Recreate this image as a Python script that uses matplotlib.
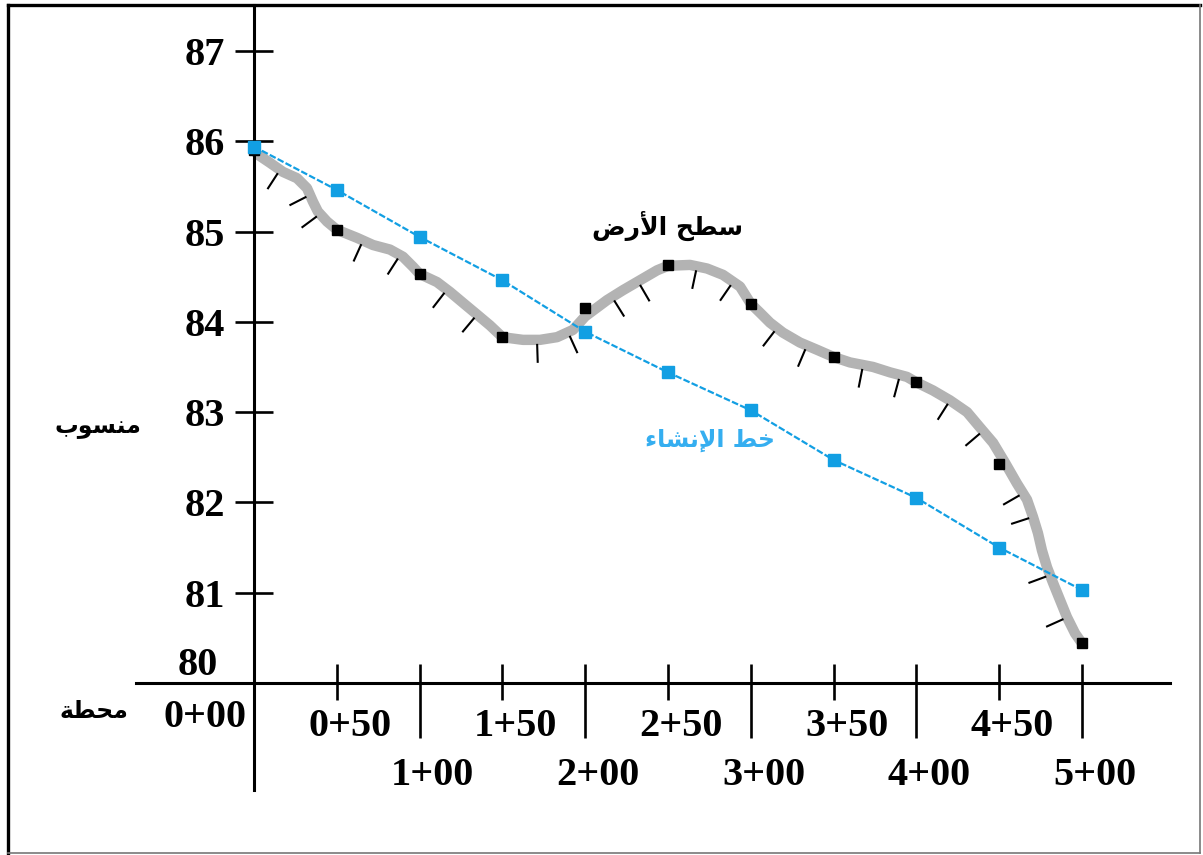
import numpy as np
import matplotlib
matplotlib.use("Agg")
import matplotlib.pyplot as plt
from matplotlib.collections import LineCollection
from matplotlib.lines import Line2D
import matplotlib.transforms as mtransforms

# ---------------- data ----------------
stations = [0, 50, 100, 150, 200, 250, 300, 350, 400, 450, 500]
station_labels = ["0+00", "0+50", "1+00", "1+50", "2+00", "2+50",
                  "3+00", "3+50", "4+00", "4+50", "5+00"]
design_elev = [85.94, 85.46, 84.94, 84.46, 83.89, 83.44, 83.02, 82.47, 82.05, 81.50, 81.03]
ground_elev = [85.90, 85.02, 84.53, 83.83, 84.15, 84.63, 84.20, 83.61, 83.33, 82.42, 80.44]

# ground surface profile
profile_sta = [0, 2.4, 9.7, 17.5, 26.0, 32.0, 35.6, 38.6, 44.1, 50, 62.2, 71.9, 82.1,
               90.0, 96.0, 100, 110.5, 118.4, 126.2, 134.7, 142.5, 150, 162.4, 172.7,
               183.0, 192.6, 200, 213.2, 222.8, 233.1, 243.4, 250, 263.3, 273.6, 283.2,
               293.5, 300, 305.6, 311.6, 319.4, 329.7, 340.0, 350, 359.9, 373.8, 384.1,
               394.3, 400, 410.0, 420.3, 430.6, 438.4, 446.3, 453.5, 460.7, 466.8, 470.4,
               473.4, 475.8, 478.9, 482.5, 486.7, 490.9, 495.8, 500]
profile_elev = [85.90, 85.85, 85.76, 85.66, 85.59, 85.48, 85.33, 85.22, 85.11, 85.02,
                84.93, 84.85, 84.80, 84.72, 84.61, 84.53, 84.44, 84.33, 84.21, 84.08,
                83.96, 83.83, 83.80, 83.80, 83.83, 83.91, 84.06, 84.24, 84.35, 84.46,
                84.57, 84.62, 84.63, 84.59, 84.52, 84.39, 84.20, 84.10, 83.99, 83.88,
                83.77, 83.69, 83.61, 83.55, 83.50, 83.44, 83.39, 83.33, 83.24, 83.13,
                83.00, 82.83, 82.66, 82.44, 82.21, 82.03, 81.84, 81.66, 81.47, 81.28,
                81.11, 80.92, 80.73, 80.55, 80.44]
hatch_sta = [15.7, 33.8, 39.9, 65.8, 88.2, 116.5, 134.7, 170.9, 189.6, 216.2, 231.9,
             267.5, 289.3, 315.8, 333.9, 367.8, 390.1, 420.3, 440.2, 464.4, 470.4,
             480.7, 491.0]
y_ticks = [80, 81, 82, 83, 84, 85, 86, 87]

# Arabic labels (presentation forms, visual order)
lbl_elev = "\uFE8F\uFEEE\uFEB4\uFEE8\uFEE3"                       # منسوب
lbl_station = "\uFE94\uFEC4\uFEA4\uFEE3"                          # محطة
lbl_ground = "\uFEBD\uFEAD\uFEF7\uFE8D \uFEA2\uFEC4\uFEB3"        # سطح الأرض
lbl_design = "\uFE80\uFE8E\uFEB8\uFEE7\uFEF9\uFE8D \uFEC2\uFEA7"  # خط الإنشاء

# ---------------- figure ----------------
W, H = 1203, 855
fig = plt.figure(figsize=(W / 100, H / 100), dpi=100)

ax_l, ax_r, ax_t, ax_b = 136, 1170, 5, 790      # axes box in pixels
x0_px, x500_px = 254, 1082
y80_px, px_per_m = 683, 90.3
sx = (x500_px - x0_px) / 500.0

ax = fig.add_axes([ax_l / W, (H - ax_b) / H, (ax_r - ax_l) / W, (ax_b - ax_t) / H])
ax.set_xlim((ax_l - x0_px) / sx, (ax_r - x0_px) / sx)
ax.set_ylim(80 - (ax_b - y80_px) / px_per_m, 80 + (y80_px - ax_t) / px_per_m)
ax.patch.set_alpha(0)

for s in ("top", "right"):
    ax.spines[s].set_visible(False)
ax.spines["left"].set_position(("data", 0))
ax.spines["bottom"].set_position(("data", 80))
for s in ("left", "bottom"):
    ax.spines[s].set_linewidth(2.2)
    ax.spines[s].set_color("black")

num_font = dict(family="Liberation Serif", weight="bold", size=29)

# y ticks
ax.set_yticks(y_ticks)
ax.set_yticklabels([str(v) for v in y_ticks], fontdict=num_font)
ax.tick_params(axis="y", direction="inout", length=27.5, width=1.9, pad=7, colors="black")
lab80 = ax.get_yticklabels()[0]
lab80.set_transform(lab80.get_transform() +
                    mtransforms.ScaledTranslation(-7 / 100, 22 / 100, fig.dpi_scale_trans))
ax.yaxis.get_major_ticks()[0].tick1line.set_visible(False)
ax.yaxis.get_major_ticks()[0].tick2line.set_visible(False)

# x ticks drawn manually (alternating length)
ax.set_xticks([])
up = 19 / px_per_m
for i, s in enumerate(stations[1:], start=1):
    down = (55 if i % 2 == 0 else 17) / px_per_m
    ax.vlines(s, 80 - down, 80 + up, color="black", lw=1.9, zorder=3)

# x labels (staggered rows)
for i, (s, t) in enumerate(zip(stations, station_labels)):
    if i == 0:
        xp, yp = x0_px - 49, 718
    elif i % 2 == 1:
        xp, yp = x0_px + s * sx + 13, 726
    else:
        xp, yp = x0_px + s * sx + 13, 776
    ax.text((xp - x0_px) / sx, 80 - (yp - y80_px) / px_per_m, t,
            ha="center", va="center", **num_font)

# ground surface
ax.plot(profile_sta, profile_elev, color="#b3b3b3", lw=7.5, solid_capstyle="round",
        solid_joinstyle="round", zorder=2)
ax.plot(stations, ground_elev, ls="none", marker="s", ms=7, color="black", zorder=4)

# design line
ax.plot(stations, design_elev, color="#129fe3", lw=1.6, ls=(0, (3, 1)),
        marker="s", ms=8, mfc="#129fe3", mec="#129fe3", zorder=5)

# hatch marks below the ground line
pts = ax.transData.transform(np.column_stack([profile_sta, profile_elev]))
segs = []
for hs in hatch_sta:
    xd = np.interp(hs, profile_sta, pts[:, 0])
    yd = np.interp(hs, profile_sta, pts[:, 1])
    a = ax.transData.transform((hs - 3, np.interp(hs - 3, profile_sta, profile_elev)))
    b = ax.transData.transform((hs + 3, np.interp(hs + 3, profile_sta, profile_elev)))
    t = b - a
    t = t / np.hypot(*t)
    n = np.array([t[1], -t[0]])
    segs.append([(xd + n[0] * 4, yd + n[1] * 4), (xd + n[0] * 23, yd + n[1] * 23)])
lc = LineCollection(segs, colors="black", linewidths=1.5,
                    transform=mtransforms.IdentityTransform(), zorder=3)
ax.add_collection(lc)

# Arabic texts
ar_font = dict(family="DejaVu Sans", weight="bold")
fig.text(98 / W, 1 - 427 / H, lbl_elev, ha="center", va="center", size=17, **ar_font)
fig.text(94 / W, 1 - 711 / H, lbl_station, ha="center", va="center", size=17, **ar_font)
fig.text(667 / W, 1 - 226 / H, lbl_ground, ha="center", va="center", size=18, **ar_font)
fig.text(710 / W, 1 - 440 / H, lbl_design, ha="center", va="center", size=17,
         color="#35aef0", **ar_font)

# figure border
fig.add_artist(Line2D([8 / W, 8 / W], [1 - 5 / H, 1 - 853 / H], transform=fig.transFigure,
                      color="black", lw=2.4))
fig.add_artist(Line2D([8 / W, 1200 / W], [1 - 5 / H, 1 - 5 / H], transform=fig.transFigure,
                      color="black", lw=2.4))
fig.add_artist(Line2D([1200 / W, 1200 / W], [1 - 5 / H, 1 - 853 / H], transform=fig.transFigure,
                      color="#777777", lw=1.2))
fig.add_artist(Line2D([8 / W, 1200 / W], [1 - 853 / H, 1 - 853 / H], transform=fig.transFigure,
                      color="#777777", lw=1.2))

fig.savefig("out.png", dpi=100)
